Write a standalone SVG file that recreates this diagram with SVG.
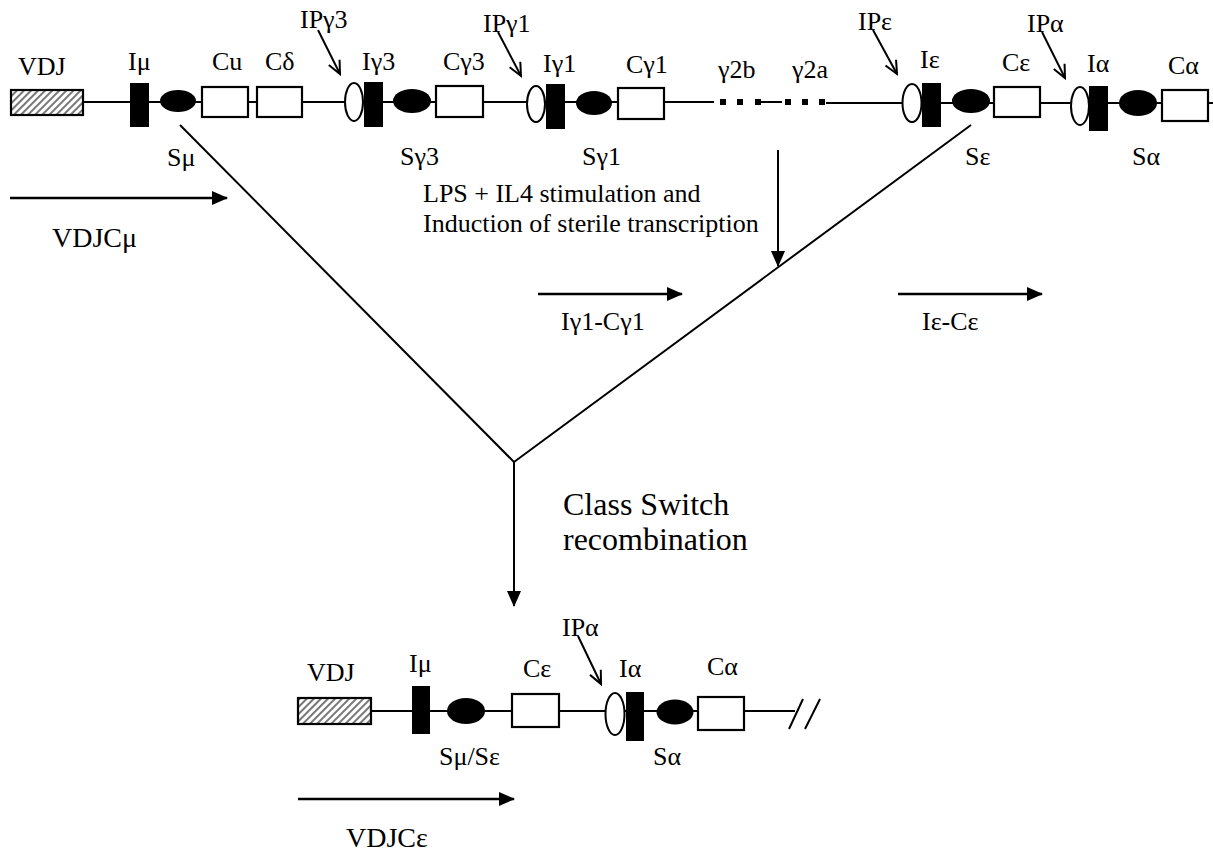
<svg xmlns="http://www.w3.org/2000/svg" width="1213" height="854" viewBox="0 0 1213 854">
<style>
text{font-family:"Liberation Serif","Times New Roman",serif;font-size:26px;fill:#000}
.big{font-size:32px}
.mid{font-size:28px}
.ln{stroke:#000;stroke-width:2;fill:none}
.box{fill:#fff;stroke:#000;stroke-width:2.2}
.blk{fill:#000;stroke:none}
.oe{fill:#fff;stroke:#000;stroke-width:2}
.arr{stroke:#000;stroke-width:2.6;fill:none;marker-end:url(#fh)}
.ip{stroke:#000;stroke-width:2;fill:none;marker-end:url(#oh)}
.dot{fill:#000}
</style>
<defs>
<marker id="fh" markerUnits="userSpaceOnUse" markerWidth="16" markerHeight="14" refX="15" refY="7" orient="auto"><path d="M0,0 L16,7 L0,14 z" fill="#000"/></marker>
<marker id="oh" markerUnits="userSpaceOnUse" markerWidth="16" markerHeight="14" refX="14" refY="7" orient="auto"><path d="M1,1 L14,7 L1,13" fill="none" stroke="#000" stroke-width="2"/></marker>
<pattern id="hatch" patternUnits="userSpaceOnUse" width="5" height="5" patternTransform="rotate(45)"><rect width="5" height="5" fill="#fff"/><line x1="1" y1="0" x2="1" y2="5" stroke="#555" stroke-width="1.6"/></pattern>
</defs>
<rect width="1213" height="854" fill="#fff"/>

<g id="connectors">
<line class="ln" x1="83" y1="102" x2="714" y2="102"/>
<line class="ln" x1="761" y1="102" x2="782" y2="102"/>
<line class="ln" x1="826" y1="103" x2="1213" y2="103"/>
<line class="ip" x1="318" y1="30" x2="340" y2="74"/>
<line class="ip" x1="498" y1="32" x2="521" y2="76"/>
<line class="ip" x1="873" y1="30" x2="897" y2="74"/>
<line class="ip" x1="1042" y1="32" x2="1065" y2="78"/>
<line class="ln" x1="180" y1="125" x2="514" y2="462"/>
<line class="ln" x1="514" y1="462" x2="971" y2="125"/>
<line class="arr" x1="10" y1="198" x2="227" y2="198"/>
<line class="ln" x1="778" y1="150" x2="778" y2="266" style="marker-end:url(#fh)"/>
<line class="arr" x1="538" y1="294" x2="682" y2="294"/>
<line class="arr" x1="898" y1="294" x2="1042" y2="294"/>
<line class="ln" x1="514" y1="462" x2="514" y2="606" style="marker-end:url(#fh)"/>
<line class="ln" x1="371" y1="711" x2="795" y2="711"/>
<line class="ln" x1="789" y1="729" x2="803" y2="699"/>
<line class="ln" x1="805" y1="729" x2="820" y2="699"/>
<line class="ip" x1="578" y1="636" x2="601" y2="684"/>
<line class="arr" x1="298" y1="799" x2="514" y2="799"/>
</g>

<g id="top-VDJ"><rect x="11" y="90" width="72" height="25" fill="url(#hatch)" stroke="#000" stroke-width="2.2"/><text x="18" y="75">VDJ</text></g>
<g id="top-Imu"><rect class="blk" x="130" y="83" width="19" height="44"/><text x="128" y="70">Iμ</text></g>
<g id="top-Smu"><ellipse class="blk" cx="178" cy="101" rx="18" ry="11"/><text x="167" y="166">Sμ</text></g>
<g id="top-Cu"><rect class="box" x="202" y="87" width="46" height="30"/><text x="212" y="70">Cu</text></g>
<g id="top-Cdelta"><rect class="box" x="257" y="87" width="45" height="30"/><text x="265" y="70">Cδ</text></g>
<g id="top-IPg3"><ellipse class="oe" cx="354" cy="102" rx="9" ry="19"/><text x="300" y="28">IPγ3</text></g>
<g id="top-Ig3"><rect class="blk" x="364" y="82" width="19" height="45"/><text x="362" y="70">Iγ3</text></g>
<g id="top-Sg3"><ellipse class="blk" cx="412" cy="101" rx="19" ry="12"/><text x="400" y="165">Sγ3</text></g>
<g id="top-Cg3"><rect class="box" x="436" y="86" width="47" height="31"/><text x="443" y="70">Cγ3</text></g>
<g id="top-IPg1"><ellipse class="oe" cx="536" cy="104" rx="9" ry="18"/><text x="483" y="32">IPγ1</text></g>
<g id="top-Ig1"><rect class="blk" x="546" y="84" width="19" height="45"/><text x="543" y="72">Iγ1</text></g>
<g id="top-Sg1"><ellipse class="blk" cx="594" cy="103" rx="18" ry="12"/><text x="582" y="165">Sγ1</text></g>
<g id="top-Cg1"><rect class="box" x="618" y="88" width="46" height="31"/><text x="626" y="73">Cγ1</text></g>
<g id="top-g2b"><rect class="dot" x="720" y="99" width="6" height="6"/><rect class="dot" x="737" y="99" width="6" height="6"/><rect class="dot" x="755" y="99" width="6" height="6"/><text x="718" y="78">γ2b</text></g>
<g id="top-g2a"><rect class="dot" x="785" y="99" width="6" height="6"/><rect class="dot" x="802" y="99" width="6" height="6"/><rect class="dot" x="819" y="99" width="6" height="6"/><text x="792" y="78">γ2a</text></g>
<g id="top-IPe"><ellipse class="oe" cx="912" cy="103" rx="9.5" ry="19"/><text x="858" y="30">IPε</text></g>
<g id="top-Ie"><rect class="blk" x="922" y="83" width="19" height="44"/><text x="920" y="68">Iε</text></g>
<g id="top-Se"><ellipse class="blk" cx="971" cy="101" rx="19" ry="12"/><text x="965" y="165">Sε</text></g>
<g id="top-Ce"><rect class="box" x="994" y="87" width="46" height="30"/><text x="1002" y="71">Cε</text></g>
<g id="top-IPa"><ellipse class="oe" cx="1080" cy="106" rx="9" ry="19"/><text x="1027" y="32">IPα</text></g>
<g id="top-Ia"><rect class="blk" x="1089" y="86" width="19" height="45"/><text x="1087" y="72">Iα</text></g>
<g id="top-Sa"><ellipse class="blk" cx="1138" cy="103" rx="19" ry="13"/><text x="1132" y="165">Sα</text></g>
<g id="top-Ca"><rect class="box" x="1162" y="90" width="46" height="31"/><text x="1168" y="74">Cα</text></g>

<g id="label-VDJCmu"><text class="mid" x="52" y="247">VDJCμ</text></g>
<g id="label-LPS"><text x="423" y="202">LPS + IL4 stimulation and</text><text x="423" y="232">Induction of sterile transcription</text></g>
<g id="label-Ig1Cg1"><text x="561" y="330">Iγ1-Cγ1</text></g>
<g id="label-IeCe"><text x="922" y="330">Iε-Cε</text></g>
<g id="label-CSR"><text class="big" x="563" y="515">Class Switch</text><text class="big" x="563" y="550">recombination</text></g>

<g id="bot-VDJ"><rect x="298" y="698" width="73" height="26" fill="url(#hatch)" stroke="#000" stroke-width="2.2"/><text x="307" y="681">VDJ</text></g>
<g id="bot-Imu"><rect class="blk" x="412" y="686" width="18" height="48"/><text x="409" y="672">Iμ</text></g>
<g id="bot-Smu"><ellipse class="blk" cx="466" cy="711" rx="19" ry="13"/><text x="439" y="765">Sμ/Sε</text></g>
<g id="bot-Ce"><rect class="box" x="512" y="694" width="47" height="33"/><text x="523" y="677">Cε</text></g>
<g id="bot-IPa"><ellipse class="oe" cx="615" cy="714" rx="9.5" ry="21"/><text x="562" y="636">IPα</text></g>
<g id="bot-Ia"><rect class="blk" x="626" y="692" width="18" height="49"/><text x="619" y="677">Iα</text></g>
<g id="bot-Sa"><ellipse class="blk" cx="675" cy="712" rx="18.5" ry="12.5"/><text x="653" y="765">Sα</text></g>
<g id="bot-Ca"><rect class="box" x="698" y="697" width="46" height="33"/><text x="707" y="675">Cα</text></g>
<g id="label-VDJCe"><text class="mid" x="346" y="847">VDJCε</text></g>
</svg>
